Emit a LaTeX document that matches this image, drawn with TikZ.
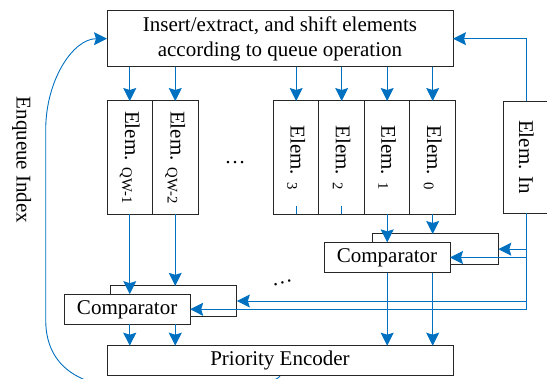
\documentclass[tikz,border=0pt]{standalone}
\usepackage{fontspec}
\setmainfont{Liberation Serif}
\usepackage{graphicx}
\usetikzlibrary{arrows.meta}
\definecolor{lblue}{RGB}{0,112,192}
\begin{document}
\begin{tikzpicture}[x=1pt,y=-1pt,
  box/.style={draw=black!85, line width=1pt, fill=white, inner sep=0pt, outer sep=0pt},
  lbl/.style={font=\fontsize{21}{25}\selectfont},
  elem/.style={box, lbl, minimum width=45.5pt, minimum height=113.3pt},
  cmpbox/.style={box, minimum width=126pt, minimum height=30.3pt},
  conn/.style={draw=lblue, line width=0.9pt},
  arr/.style={conn, -{Stealth[length=13pt,width=13pt,inset=2pt]}}]
\useasboundingbox (0,0) rectangle (547,379);
\clip (0,0) rectangle (547,379);
% boxes
\node[box, lbl, align=center, minimum width=346pt, minimum height=56pt] (top) at (280,38.7)
  {Insert/extract, and shift elements\\according to queue operation};
\node[elem] (eq1) at (129.75,157.65) {\rotatebox{-90}{Elem. \textsubscript{QW-1}}};
\node[elem] (eq2) at (175.25,157.65) {\rotatebox{-90}{Elem. \textsubscript{QW-2}}};
\node[elem] (e3) at (296.2,157.65) {\rotatebox{-90}{Elem. \textsubscript{3}}};
\node[elem] (e2) at (341.7,157.65) {\rotatebox{-90}{Elem. \textsubscript{2}}};
\node[elem] (e1) at (387.2,157.65) {\rotatebox{-90}{Elem. \textsubscript{1}}};
\node[elem] (e0) at (432.7,157.65) {\rotatebox{-90}{Elem. \textsubscript{0}}};
\node[elem, minimum width=46pt, minimum height=112.3pt] (ein) at (526.2,157.2) {\rotatebox{-90}{Elem. In}};
\node[cmpbox] (crb) at (435.3,249.15) {};
\node[cmpbox, lbl] (cr) at (387,257.5) {Comparator};
\node[cmpbox] (clb) at (173.85,301) {};
\node[cmpbox, lbl] (cl) at (127.15,309.3) {Comparator};
\node[box, lbl, minimum width=346pt, minimum height=30.3pt] (pe) at (280,360.85) {Priority Encoder};
\node[lbl] (enq) at (21.7,160) {\rotatebox{-90}{Enqueue Index}};
\node[lbl, anchor=base] (dots1) at (235,163.5) {\dots};
\node[lbl, anchor=base, rotate=15] (dots2) at (282.7,284) {\dots};
% connectors
\foreach \e in {eq1,eq2,e3,e2,e1,e0}
  \draw[arr] (\e.north |- top.south) -- (\e.north);
\draw[arr] (ein.north) |- (top.east);
\draw[arr] (eq1.south) -- (eq1.south |- cl.north);
\draw[arr] (eq2.south) -- (eq2.south |- clb.north);
\draw[arr] (e1.south) -- (e1.south |- cr.north);
\draw[arr] (e0.south) -- (e0.south |- crb.north);
\coordinate (s3) at ([yshift=8pt]e3.south);
\coordinate (s2) at ([yshift=8pt]e2.south);
\draw[conn] (e3.south) -- (s3);
\draw[conn] (e2.south) -- (s2);
\draw[arr] (eq1.south |- cl.south) -- (eq1.south |- pe.north);
\draw[arr] (eq2.south |- cl.south) -- (eq2.south |- pe.north);
\draw[arr] (e1.south |- cr.south) -- (e1.south |- pe.north);
\draw[arr] (e0.south |- cr.south) -- (e0.south |- pe.north);
\draw[arr] (ein.south) |- (cl.east);
\draw[arr] (ein.south |- clb.east) -- (clb.east);
\draw[arr] (ein.south |- crb.east) -- (crb.east);
\draw[arr] (ein.south |- cr.east) -- (cr.east);
\draw[arr] (pe.south) .. controls (270,392) and (120,395) .. (83,379)
  .. controls (60,369) and (45.7,350) .. (45.7,320) -- (45.7,130)
  .. controls (45.7,79.8) and (73.2,38.7) .. (top.west);
\end{tikzpicture}
\end{document}
